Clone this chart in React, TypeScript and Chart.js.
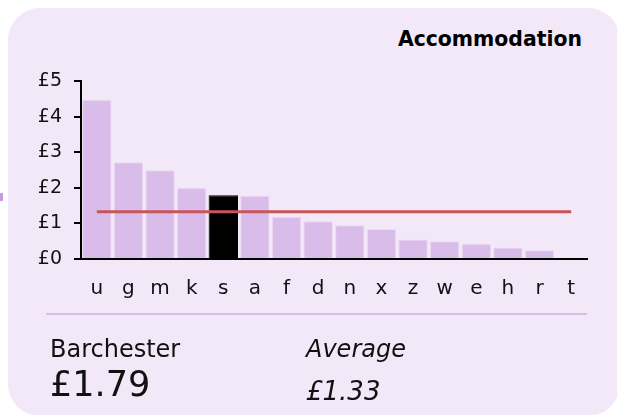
import React, { useEffect, useRef } from "react";
import { Chart, registerables } from "chart.js";

Chart.register(...registerables);

const categories = ["u", "g", "m", "k", "s", "a", "f", "d", "n", "x", "z", "w", "e", "h", "r", "t"];
const costs = [4.47, 2.72, 2.49, 2.0, 1.79, 1.78, 1.19, 1.06, 0.95, 0.84, 0.55, 0.5, 0.43, 0.32, 0.245, 0];
const highlightIndex = 4;
const averageValue = 1.33;
const yTicks = [0, 1, 2, 3, 4, 5];
const titleText = "Accommodation";
const placeName = "Barchester";
const placeValue = "£1.79";
const averageLabel = "Average";
const averageText = "£1.33";

const PANEL = "rgb(242,232,247)";
const BAR = "rgb(217,188,233)";
const BAR_EDGE = "rgb(234,218,243)";
const FONT = "'DejaVu Sans', Verdana, sans-serif";

export default function App() {
  const ref = useRef<HTMLCanvasElement | null>(null);

  useEffect(() => {
    if (!ref.current) return;
    const chart = new Chart(ref.current, {
      type: "bar",
      data: {
        labels: categories,
        datasets: [
          {
            type: "line",
            data: categories.map(() => averageValue),
            borderColor: "rgb(200,86,88)",
            borderWidth: 3,
            pointRadius: 0,
            order: 0,
          } as any,
          {
            type: "bar",
            data: costs,
            backgroundColor: costs.map((_, i) => (i === highlightIndex ? "#000" : BAR)),
            borderColor: costs.map((_, i) => (i === highlightIndex ? "#000" : BAR_EDGE)),
            borderWidth: 1,
            barPercentage: 0.93,
            categoryPercentage: 1,
            order: 1,
          },
        ],
      },
      options: {
        animation: false,
        responsive: false,
        maintainAspectRatio: false,
        layout: { padding: { left: 0, right: 30, top: 81, bottom: 116 } },
        plugins: { legend: { display: false }, tooltip: { enabled: false }, title: { display: false } },
        scales: {
          x: {
            grid: { display: false },
            border: { display: true, color: "#000", width: 2 },
            ticks: { color: "#111", font: { family: FONT, size: 20 }, padding: 10, maxRotation: 0 },
            afterFit: (s: any) => {
              s.height = 40;
            },
          },
          y: {
            min: 0,
            max: 5,
            afterBuildTicks: (s: any) => {
              s.ticks = yTicks.map((v) => ({ value: v }));
            },
            grid: { drawOnChartArea: false, drawTicks: true, tickLength: 7, color: "#000", lineWidth: 2 },
            border: { display: true, color: "#000", width: 2 },
            ticks: {
              color: "#111",
              font: { family: FONT, size: 19 },
              padding: 12,
              callback: (v: any) => "£" + v,
            },
            afterFit: (s: any) => {
              s.width = 81;
            },
          },
        },
      },
    });
    return () => chart.destroy();
  }, []);

  const abs = (o: React.CSSProperties): React.CSSProperties => ({ position: "absolute", margin: 0, ...o });

  return (
    <div style={abs({ left: 0, top: 0, width: 617, height: 415, overflow: "hidden", fontFamily: FONT, color: "#111" })}>
      <div style={abs({ left: 8, top: 8, width: 612, height: 408, background: PANEL, borderRadius: 32 })} />
      <div style={abs({ left: 0, top: 193, width: 3, height: 8, background: "rgb(196,157,223)" })} />
      <div style={abs({ right: 35, top: 29, fontSize: 20.4, lineHeight: "20px", fontWeight: "bold", whiteSpace: "nowrap", color: "#000" })}>
        {titleText}
      </div>
      <canvas ref={ref} width={617} height={415} style={abs({ left: 0, top: 0, width: 617, height: 415 })} />
      <div style={abs({ left: 46, top: 313, width: 541, height: 2, background: BAR })} />
      <div style={abs({ left: 50, top: 337, fontSize: 24, lineHeight: "24px", whiteSpace: "nowrap" })}>{placeName}</div>
      <div style={abs({ left: 50, top: 367, fontSize: 35, lineHeight: "35px", whiteSpace: "nowrap" })}>{placeValue}</div>
      <div style={abs({ left: 306, top: 337, fontSize: 24, lineHeight: "24px", fontStyle: "italic", whiteSpace: "nowrap" })}>
        {averageLabel}
      </div>
      <div style={abs({ left: 306, top: 378, fontSize: 26, lineHeight: "26px", fontStyle: "italic", whiteSpace: "nowrap" })}>
        {averageText}
      </div>
    </div>
  );
}
